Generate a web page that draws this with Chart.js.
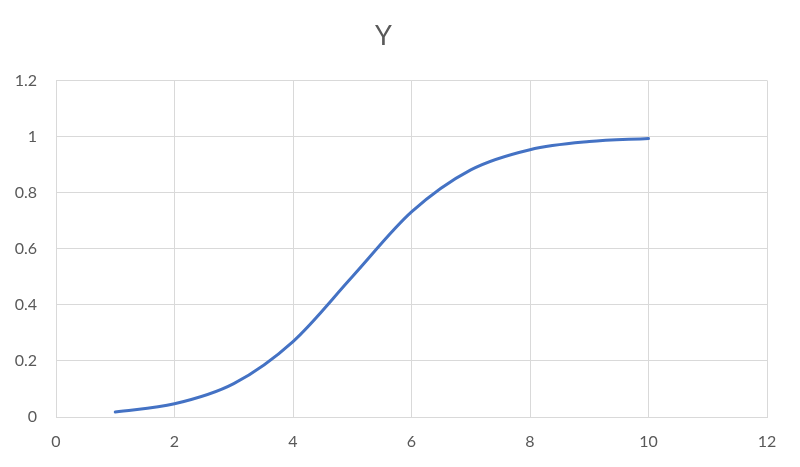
<!DOCTYPE html>
<html>
<head>
<meta charset="utf-8">
<script src="https://cdn.jsdelivr.net/npm/chart.js@4"></script>
<style>
  html, body { margin: 0; padding: 0; background: #fff; }
  #wrap { width: 800px; height: 467px; }
</style>
</head>
<body>
<div id="wrap"><canvas id="chart"></canvas></div>
<script>
// values
let xValues = [1, 2, 3, 4, 5, 6, 7, 8, 9, 10];
let yValues = [0.018, 0.047, 0.119, 0.269, 0.5, 0.731, 0.881, 0.953, 0.982, 0.993];
let chartTitle = 'Y';

let points = [];
for (let i = 0; i < xValues.length; i++) {
    points.push({x: xValues[i], y: yValues[i]});
}

let ctx = document.getElementById('chart').getContext('2d');
window.y_chart = new Chart(ctx, {
    type: 'scatter',
    data: {
        datasets: [{
            label: chartTitle,
            data: points,
            showLine: true,
            borderColor: '#4472C4',
            backgroundColor: '#4472C4',
            borderWidth: 3,
            pointRadius: 0,
            cubicInterpolationMode: 'monotone',
            borderCapStyle: 'round'
        }]
    },
    options: {
        responsive: true,
        maintainAspectRatio: false,
        animation: false,
        layout: { padding: { left: 0, right: 33, top: 0, bottom: 0 } },
        plugins: {
            legend: { display: false },
            tooltip: { enabled: false },
            title: {
                display: true,
                text: chartTitle,
                color: '#595959',
                font: { family: 'Lato', size: 27, weight: 'normal' },
                padding: { top: 20, bottom: 28 }
            }
        },
        scales: {
            x: {
                type: 'linear',
                min: 0,
                max: 12,
                ticks: { stepSize: 2, color: '#595959', padding: 15, font: { family: 'Lato', size: 16 } },
                grid: { color: '#d9d9d9', drawTicks: false },
                border: { color: '#d9d9d9' },
                afterFit: function(scale) { scale.height = 50; }
            },
            y: {
                min: 0,
                max: 1.2,
                ticks: { stepSize: 0.2, color: '#595959', padding: 19, font: { family: 'Lato', size: 16 },
                    callback: function(v) { return Math.round(v * 10) / 10; } },
                grid: { color: '#d9d9d9', drawTicks: false },
                border: { display: false },
                afterFit: function(scale) { scale.width = 56; }
            }
        }
    }
});
</script>
</body>
</html>
